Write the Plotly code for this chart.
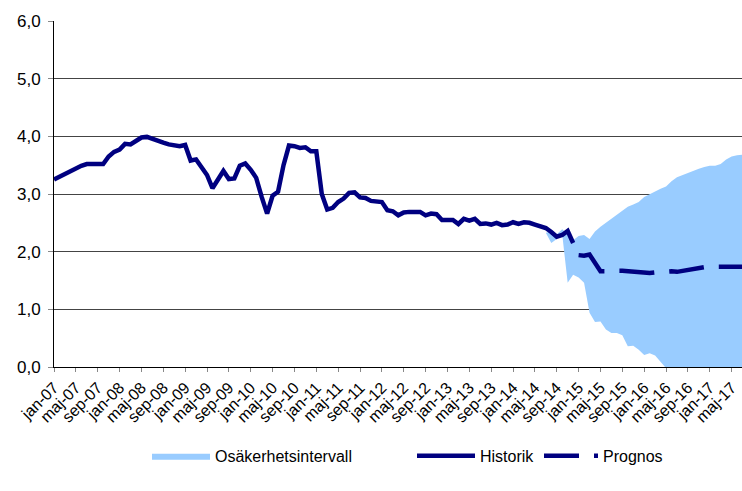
import plotly.graph_objects as go

tick_labels = ["jan-07", "maj-07", "sep-07", "jan-08", "maj-08", "sep-08", "jan-09", "maj-09",
               "sep-09", "jan-10", "maj-10", "sep-10", "jan-11", "maj-11", "sep-11", "jan-12",
               "maj-12", "sep-12", "jan-13", "maj-13", "sep-13", "jan-14", "maj-14", "sep-14",
               "jan-15", "maj-15", "sep-15", "jan-16", "maj-16", "sep-16", "jan-17", "maj-17"]

# Historik: monthly values jan-07 .. dec-14
historik = [3.25, 3.30, 3.34, 3.39, 3.43, 3.49, 3.52, 3.52, 3.52, 3.52, 3.65, 3.73,
            3.77, 3.87, 3.86, 3.92, 3.98, 3.99, 3.95, 3.91, 3.89, 3.86, 3.85, 3.83,
            3.85, 3.58, 3.60, 3.45, 3.33, 3.10, 3.25, 3.40, 3.26, 3.27, 3.49, 3.53,
            3.42, 3.28, 2.95, 2.66, 2.97, 3.04, 3.50, 3.84, 3.83, 3.80, 3.81, 3.74,
            3.74, 3.00, 2.73, 2.76, 2.86, 2.92, 3.02, 3.03, 2.94, 2.93, 2.88, 2.87,
            2.86, 2.72, 2.70, 2.63, 2.68, 2.69, 2.69, 2.69, 2.63, 2.66, 2.65, 2.55,
            2.55, 2.55, 2.48, 2.57, 2.54, 2.57, 2.48, 2.49, 2.47, 2.50, 2.46, 2.47,
            2.51, 2.48, 2.51, 2.50, 2.47, 2.45, 2.41, 2.34, 2.26, 2.29, 2.36, 2.15]

# Prognos: monthly values jan-15 .. jul-17
prognos = [1.94, 1.93, 1.95, 1.80, 1.66, 1.66, 1.67, 1.67, 1.67, 1.66, 1.65, 1.64,
           1.64, 1.63, 1.64, 1.65, 1.66, 1.66, 1.65, 1.67, 1.69, 1.71, 1.72, 1.73,
           1.74, 1.74, 1.74, 1.73, 1.73, 1.73, 1.74]

# Osäkerhetsintervall: monthly lower/upper bounds jul-14 .. jul-17
band_lower = [2.33, 2.15, 2.22, 2.30, 1.46, 1.60, 1.55, 1.46, 0.94, 0.78, 0.79, 0.65,
              0.59, 0.59, 0.55, 0.36, 0.37, 0.30, 0.21, 0.24, 0.20, 0.08, -0.02, -0.10,
              -0.20, -0.25, -0.30, -0.35, -0.40, -0.45, -0.50, -0.55, -0.60, -0.65, -0.70,
              -0.75, -0.80]
band_upper = [2.33, 2.35, 2.30, 2.39, 2.30, 2.20, 2.27, 2.29, 2.22, 2.35, 2.43, 2.50,
              2.56, 2.63, 2.70, 2.78, 2.82, 2.86, 2.95, 3.00, 3.04, 3.09, 3.13, 3.22,
              3.29, 3.33, 3.37, 3.41, 3.44, 3.47, 3.49, 3.49, 3.52, 3.60, 3.65, 3.67, 3.68]

hist_start = 0
prog_start = len(historik)
band_start = 90

x_hist = list(range(hist_start, hist_start + len(historik)))
x_prog = list(range(prog_start, prog_start + len(prognos)))
x_band = list(range(band_start, band_start + len(band_lower)))
tick_vals = [4 * i for i in range(len(tick_labels))]

NAVY = "#000080"
BAND = "#99CCFF"
FONT = "Liberation Sans, Arial, sans-serif"

PL, PR = 54, 742
PW = PR - PL


def px_to_paper(px):
    return (px - PL) / PW


fig = go.Figure()
fig.add_trace(go.Scatter(x=x_band, y=band_lower, mode="lines", line=dict(width=0, color=BAND),
                         showlegend=False, hoverinfo="skip"))
fig.add_trace(go.Scatter(x=x_band, y=band_upper, mode="lines", line=dict(width=0, color=BAND),
                         fill="tonexty", fillcolor=BAND, name="Osäkerhetsintervall",
                         legend="legend"))
fig.add_trace(go.Scatter(x=x_hist, y=historik, mode="lines", line=dict(width=4.5, color=NAVY),
                         name="Historik", legend="legend2"))
fig.add_trace(go.Scatter(x=x_prog, y=prognos, mode="lines",
                         line=dict(width=4.5, color=NAVY, dash="35px,15px"),
                         name="Prognos", legend="legend3"))

leg_common = dict(orientation="h", xanchor="left", y=-0.257, yanchor="middle",
                  font=dict(size=16, family=FONT, color="black"), bgcolor="rgba(0,0,0,0)")

fig.update_layout(
    width=742, height=491,
    margin=dict(l=PL, r=742 - PR, t=21, b=124, autoexpand=False),
    paper_bgcolor="white", plot_bgcolor="white",
    separators=", ",
    font=dict(family=FONT, color="black", size=16),
    showlegend=True,
    legend=dict(x=px_to_paper(147), itemwidth=58, **leg_common),
    legend2=dict(x=px_to_paper(412), itemwidth=58, **leg_common),
    legend3=dict(x=px_to_paper(539), itemwidth=54, **leg_common),
    xaxis=dict(range=[0, 125.9], tickmode="array", tickvals=tick_vals, ticktext=tick_labels,
               tickangle=-45, showgrid=False, zeroline=False, showline=True, automargin=False,
               linecolor="black", linewidth=1, ticks="outside", ticklen=4, tickcolor="#888",
               tickfont=dict(size=16, family=FONT)),
    yaxis=dict(range=[0, 6], dtick=1, tickformat=".1f", showgrid=True, gridcolor="#444",
               gridwidth=1, zeroline=False, showline=True, linecolor="black", linewidth=1,
               ticks="outside", ticklen=5, tickcolor="#888", automargin=False,
               ticklabelstandoff=4,
               tickfont=dict(size=17, family=FONT)),
)

fig.write_html("out.html", config={"displayModeBar": False},
               post_script="document.body.style.margin='0';document.body.style.overflow='hidden';")
